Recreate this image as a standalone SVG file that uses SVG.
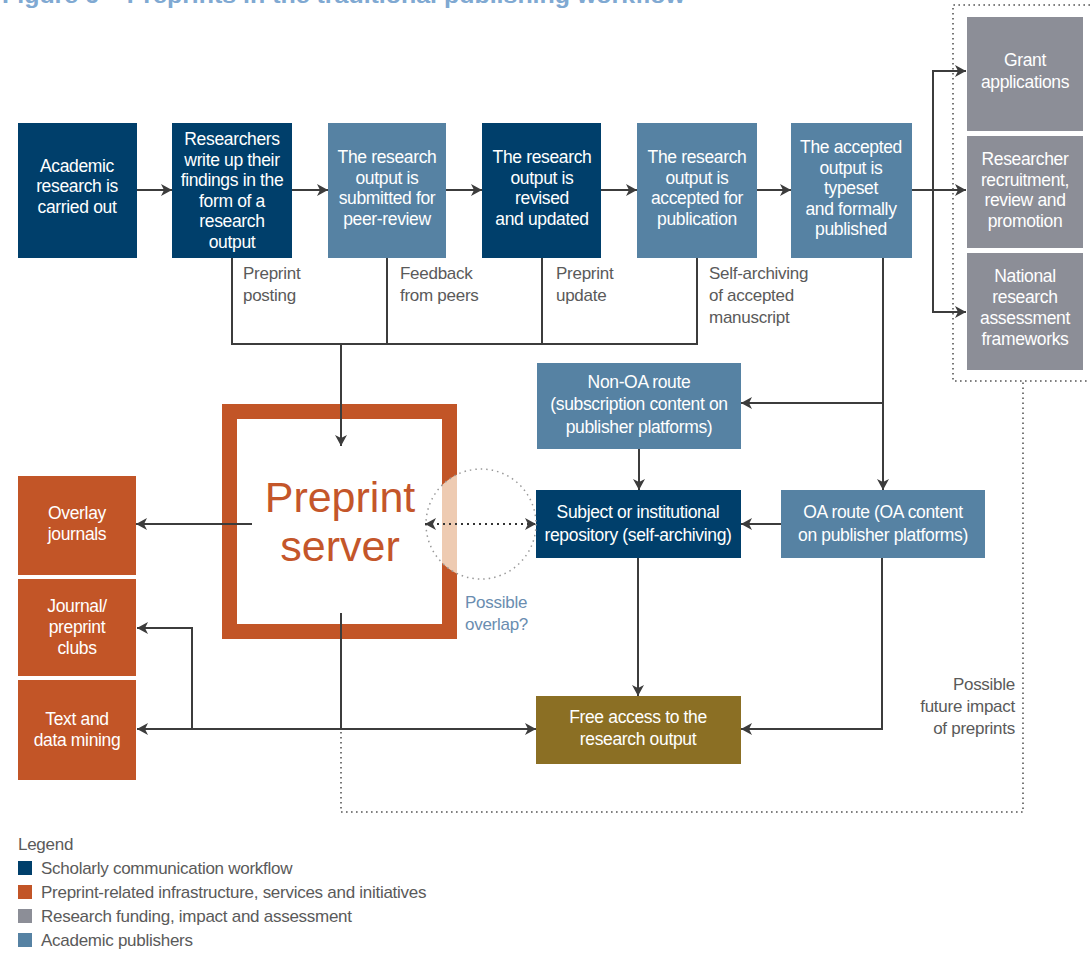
<svg xmlns="http://www.w3.org/2000/svg" width="1090" height="954" viewBox="0 0 1090 954">
<style>
.bt{font-family:"Liberation Sans",Arial,sans-serif;font-size:17.5px;fill:#fff;text-anchor:middle;letter-spacing:-0.35px}
.lb{font-family:"Liberation Sans",Arial,sans-serif;font-size:17px;fill:#5a5a5a;letter-spacing:-0.27px}
.bl{font-family:"Liberation Sans",Arial,sans-serif;font-size:17px;fill:#6a8db0;letter-spacing:-0.27px}
.dark{fill:#003f6b}
.mid{fill:#5682a3}
.gray{fill:#8c8e97}
.org{fill:#c25527}
.ln{fill:none;stroke:#3c3c3c;stroke-width:2}
.dot{fill:none;stroke:#555;stroke-width:1.6;stroke-dasharray:1.6 3.4}
</style>
<defs>
<marker id="ah" markerUnits="userSpaceOnUse" markerWidth="11" markerHeight="12" refX="11" refY="6" orient="auto-start-reverse" viewBox="0 0 11 12">
<path d="M0,0 L11,6 L0,12 L3,6 z" fill="#3c3c3c"/>
</marker>
<clipPath id="cc"><circle cx="481" cy="524" r="55"/></clipPath>
</defs>
<rect width="1090" height="954" fill="#fff"/>
<text x="2" y="3" font-family="Liberation Sans,Arial,sans-serif" font-size="22" font-weight="bold" fill="#80a9d2" textLength="683" lengthAdjust="spacingAndGlyphs">Figure 6 – Preprints in the traditional publishing workflow</text>

<g id="n-academic"><rect class="dark" x="18" y="123" width="119" height="135"/>
<text class="bt" x="77" y="172">Academic</text><text class="bt" x="77" y="192">research is</text><text class="bt" x="77" y="213">carried out</text></g>
<g id="n-writeup"><rect class="dark" x="172" y="123" width="120" height="135"/>
<text class="bt" x="232" y="145">Researchers</text><text class="bt" x="232" y="166">write up their</text><text class="bt" x="232" y="186">findings in the</text><text class="bt" x="232" y="207">form of a</text><text class="bt" x="232" y="227">research</text><text class="bt" x="232" y="248">output</text></g>
<g id="n-submitted"><rect class="mid" x="328" y="123" width="118" height="135"/>
<text class="bt" x="387" y="163">The research</text><text class="bt" x="387" y="184">output is</text><text class="bt" x="387" y="204">submitted for</text><text class="bt" x="387" y="225">peer-review</text></g>
<g id="n-revised"><rect class="dark" x="482" y="123" width="119" height="135"/>
<text class="bt" x="542" y="163">The research</text><text class="bt" x="542" y="184">output is</text><text class="bt" x="542" y="204">revised</text><text class="bt" x="542" y="225">and updated</text></g>
<g id="n-accepted"><rect class="mid" x="637" y="123" width="120" height="135"/>
<text class="bt" x="697" y="163">The research</text><text class="bt" x="697" y="184">output is</text><text class="bt" x="697" y="204">accepted for</text><text class="bt" x="697" y="225">publication</text></g>
<g id="n-published"><rect class="mid" x="791" y="123" width="121" height="135"/>
<text class="bt" x="851" y="153">The accepted</text><text class="bt" x="851" y="174">output is</text><text class="bt" x="851" y="194">typeset</text><text class="bt" x="851" y="215">and formally</text><text class="bt" x="851" y="235">published</text></g>

<g id="n-grant"><rect class="gray" x="967" y="17" width="116" height="114"/>
<text class="bt" x="1025" y="66">Grant</text><text class="bt" x="1025" y="88">applications</text></g>
<g id="n-recruit"><rect class="gray" x="967" y="136" width="116" height="112"/>
<text class="bt" x="1025" y="165">Researcher</text><text class="bt" x="1025" y="186">recruitment,</text><text class="bt" x="1025" y="206">review and</text><text class="bt" x="1025" y="227">promotion</text></g>
<g id="n-national"><rect class="gray" x="967" y="253" width="116" height="117"/>
<text class="bt" x="1025" y="282">National</text><text class="bt" x="1025" y="303">research</text><text class="bt" x="1025" y="324">assessment</text><text class="bt" x="1025" y="345">frameworks</text></g>

<g id="labels">
<text class="lb" x="243" y="279">Preprint</text><text class="lb" x="243" y="301">posting</text>
<text class="lb" x="400" y="279">Feedback</text><text class="lb" x="400" y="301">from peers</text>
<text class="lb" x="556" y="279">Preprint</text><text class="lb" x="556" y="301">update</text>
<text class="lb" x="709" y="279">Self-archiving</text><text class="lb" x="709" y="301">of accepted</text><text class="lb" x="709" y="323">manuscript</text>
<text class="bl" x="465" y="608">Possible</text><text class="bl" x="465" y="630">overlap?</text>
<text class="lb" x="1015" y="690" text-anchor="end">Possible</text><text class="lb" x="1015" y="712" text-anchor="end">future impact</text><text class="lb" x="1015" y="734" text-anchor="end">of preprints</text>
</g>

<g id="n-nonoa"><rect class="mid" x="537" y="363" width="204" height="86"/>
<text class="bt" x="639" y="388">Non-OA route</text><text class="bt" x="639" y="410">(subscription content on</text><text class="bt" x="639" y="433">publisher platforms)</text></g>
<g id="n-repository"><rect class="dark" x="536" y="490" width="205" height="68"/>
<text class="bt" x="638" y="518">Subject or institutional</text><text class="bt" x="638" y="541">repository (self-archiving)</text></g>
<g id="n-oa"><rect class="mid" x="781" y="490" width="204" height="68"/>
<text class="bt" x="883" y="518">OA route (OA content</text><text class="bt" x="883" y="541">on publisher platforms)</text></g>
<g id="n-free"><rect x="536" y="696" width="205" height="68" fill="#8b6f24"/>
<text class="bt" x="638" y="723">Free access to the</text><text class="bt" x="638" y="745">research output</text></g>

<g id="n-preprint-server">
<rect x="229.5" y="411.5" width="220" height="220" fill="#fff" stroke="#c25527" stroke-width="15"/>
<rect x="442" y="460" width="15" height="130" fill="#eecbb2" clip-path="url(#cc)"/>
<text x="340" y="512" font-family="Liberation Sans,Arial,sans-serif" font-size="43" fill="#c4562a" text-anchor="middle">Preprint</text>
<text x="340" y="561" font-family="Liberation Sans,Arial,sans-serif" font-size="43" fill="#c4562a" text-anchor="middle">server</text>
</g>
<g id="overlap">
<circle cx="481" cy="524" r="55" fill="none" stroke="#999" stroke-width="1.5" stroke-dasharray="1.5 4"/>
</g>

<g id="n-overlay"><rect class="org" x="18" y="476" width="118" height="99"/>
<text class="bt" x="77" y="519">Overlay</text><text class="bt" x="77" y="540">journals</text></g>
<g id="n-clubs"><rect class="org" x="18" y="579" width="118" height="97"/>
<text class="bt" x="77" y="612">Journal/</text><text class="bt" x="77" y="633">preprint</text><text class="bt" x="77" y="654">clubs</text></g>
<g id="n-tdm"><rect class="org" x="18" y="680" width="118" height="100"/>
<text class="bt" x="77" y="725">Text and</text><text class="bt" x="77" y="746">data mining</text></g>

<g id="connectors">
<path class="ln" d="M137,190 H172" marker-end="url(#ah)"/>
<path class="ln" d="M292,190 H328" marker-end="url(#ah)"/>
<path class="ln" d="M446,190 H482" marker-end="url(#ah)"/>
<path class="ln" d="M601,190 H637" marker-end="url(#ah)"/>
<path class="ln" d="M757,190 H791" marker-end="url(#ah)"/>
<path class="ln" d="M912,190 H966" marker-end="url(#ah)"/>
<path class="ln" d="M966,71 H933 V312 H966" marker-start="url(#ah)" marker-end="url(#ah)"/>
<path class="ln" d="M232,258 V344 H697 V258"/>
<path class="ln" d="M387,258 V344"/>
<path class="ln" d="M542,258 V344"/>
<path class="ln" d="M341,344 V446" marker-end="url(#ah)"/>
<path class="ln" d="M883,258 V490" marker-end="url(#ah)"/>
<path class="ln" d="M883,403 H741" marker-end="url(#ah)"/>
<path class="ln" d="M639,449 V490" marker-end="url(#ah)"/>
<path class="ln" d="M781,524 H741" marker-end="url(#ah)"/>
<path class="ln" d="M638,558 V696" marker-end="url(#ah)"/>
<path class="ln" d="M882,558 V729 H741" marker-end="url(#ah)"/>
<path class="ln" d="M252,524 H136" marker-end="url(#ah)"/>
<path class="ln" d="M341,613 V729"/>
<path class="ln" d="M137,729 H536" marker-start="url(#ah)" marker-end="url(#ah)"/>
<path class="ln" d="M192,729 V628 H137" marker-end="url(#ah)"/>
<path d="M425,524 H536" fill="none" stroke="#333" stroke-width="2" stroke-dasharray="2 4" marker-start="url(#ah)" marker-end="url(#ah)"/>
<path class="dot" d="M341,732 V812 H1023 V381"/>
<path class="dot" d="M1090,5 H953 V381 H1090"/>
</g>

<g id="legend">
<text class="lb" x="18" y="850">Legend</text>
<rect class="dark" x="18" y="861" width="14" height="14"/><text class="lb" x="41" y="874">Scholarly communication workflow</text>
<rect class="org" x="18" y="885" width="14" height="14"/><text class="lb" x="41" y="898">Preprint-related infrastructure, services and initiatives</text>
<rect class="gray" x="18" y="909" width="14" height="14"/><text class="lb" x="41" y="922">Research funding, impact and assessment</text>
<rect class="mid" x="18" y="933" width="14" height="14"/><text class="lb" x="41" y="946">Academic publishers</text>
</g>
</svg>
